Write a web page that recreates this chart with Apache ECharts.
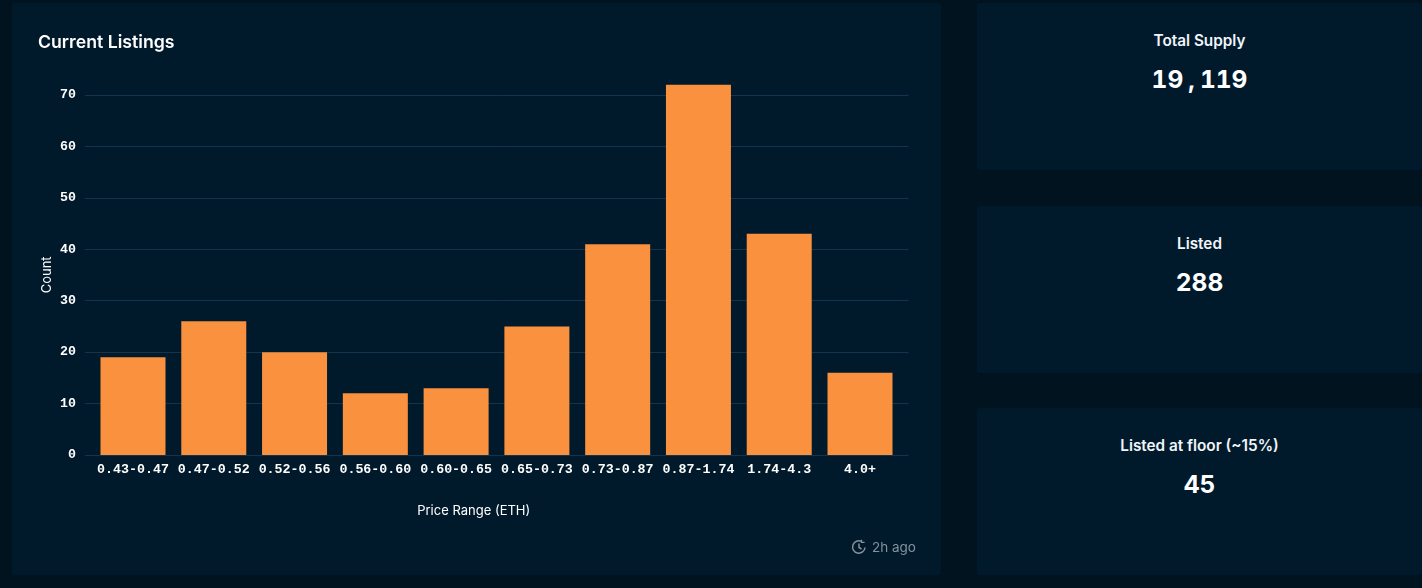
<!DOCTYPE html>
<html>
  <head>
    <title>Current Listings</title>
    <meta http-equiv="content-type" content="text/html; charset=UTF-8">
    <script src="https://cdn.jsdelivr.net/npm/echarts@6/dist/echarts.min.js"></script>
    <style>
      html, body { margin: 0; width: 1422px; height: 588px; overflow: hidden; background: #00131f; font-family: Inter, sans-serif; }
      .card { position: absolute; background: #001a2c; border-radius: 3px; }
      .stat { left: 977px; width: 445px; height: 167px; color: #fff; text-align: center; }
      .stat .label { position: absolute; left: 0; right: 0; top: 29px; font-size: 15.3px; line-height: 18px; font-weight: 600; color: #f1f5f9; }
      .stat .value { position: absolute; left: 0; right: 0; top: 57.5px; font-size: 24.5px; line-height: 36px; font-weight: 750; font-variant-numeric: tabular-nums; }
      .stat .value i { font-style: normal; padding: 0 5px; }
      #main { position: absolute; left: 0; top: 0; width: 1422px; height: 588px; }
      #ago { position: absolute; left: 851px; top: 538px; height: 18px; color: #84929c; font-size: 13.5px; line-height: 18px; }
      #ago svg { position: absolute; left: 0; top: 1px; }
      #ago span { position: absolute; left: 21px; top: 0; white-space: nowrap; }
    </style>
  </head>
  <body>
    <div class="card" style="left:12px;top:3px;width:929px;height:572px"></div>
    <div class="card stat" style="top:3px"><div class="label" id="l0"></div><div class="value" id="v0"></div></div>
    <div class="card stat" style="top:206px"><div class="label" id="l1"></div><div class="value" id="v1"></div></div>
    <div class="card stat" style="top:408px"><div class="label" id="l2"></div><div class="value" id="v2"></div></div>
    <div id="main"></div>
    <div id="ago">
      <svg width="16" height="16" viewBox="0 0 16 16" fill="none" stroke="#84929c" stroke-width="1.5">
        <path d="M14 8.5A6.2 6.2 0 1 1 10.5 2.4"/><path d="M8 4.5V8.5L10.5 10"/><path d="M10.5 0.8V3.4H13.6" stroke-width="1.3"/>
      </svg>
      <span>2h ago</span>
    </div>

<script>
  var categories = ["0.43-0.47", "0.47-0.52", "0.52-0.56", "0.56-0.60", "0.60-0.65", "0.65-0.73", "0.73-0.87", "0.87-1.74", "1.74-4.3", "4.0+"];
  var counts = [19, 26, 20, 12, 13, 25, 41, 72, 43, 16];
  var statLabels = ["Total Supply", "Listed", "Listed at floor (~15%)"];
  var statValues = ["19,119", "288", "45"];

  for (var i = 0; i < statLabels.length; i++) {
    document.getElementById("l" + i).textContent = statLabels[i];
    // the comma sits in its own wide slot, like a monospaced font
    document.getElementById("v" + i).innerHTML = statValues[i].replace(",", "<i>,</i>");
  }

  var myChart = echarts.init(document.getElementById('main'));
  var monoLabel = { color: '#fff', fontFamily: 'Liberation Mono', fontWeight: 'bold', fontSize: 13.3 };
  var nameStyle = { color: '#fff', fontFamily: 'Inter', fontSize: 13 };
  var gridColor = '#13344f';

  // grid 0 holds the gridlines and y labels, grid 1 is a bit narrower and holds the bars
  var option = {
    animation: false,
    title: {
      text: 'Current Listings', left: 33, top: 29,
      textStyle: { color: '#fff', fontFamily: 'Inter', fontSize: 17.7, fontWeight: 600 }
    },
    grid: [
      { left: 85, right: 513.5, top: 84.7, bottom: 133 },
      { left: 92.6, right: 521.6, top: 84.7, bottom: 133 }
    ],
    xAxis: [
      {
        type: 'category', gridIndex: 0, data: categories,
        axisLine: { show: false }, axisTick: { show: false }, axisLabel: { show: false },
        name: 'Price Range (ETH)', nameLocation: 'middle', nameGap: 50,
        nameTextStyle: Object.assign({ padding: [0, 46, 0, 0] }, nameStyle)
      },
      {
        type: 'category', gridIndex: 1, data: categories,
        axisLine: { show: false }, axisTick: { show: false },
        axisLabel: Object.assign({ margin: 8, interval: 0 }, monoLabel)
      }
    ],
    yAxis: [
      {
        type: 'value', gridIndex: 0, min: 0, max: 72, interval: 10,
        axisLine: { show: false }, axisTick: { show: false },
        axisLabel: Object.assign({ margin: 9, showMaxLabel: false, padding: [2, 0, 0, 0] }, monoLabel),
        splitLine: { showMaxLine: false, lineStyle: { color: gridColor, width: 1 } },
        name: 'Count', nameLocation: 'middle', nameGap: 31, nameMoveOverlap: false,
        nameTextStyle: Object.assign({ padding: [0, 10, 0, 0] }, nameStyle)
      },
      {
        type: 'value', gridIndex: 1, min: 0, max: 72, show: false
      }
    ],
    series: [{
      type: 'bar', xAxisIndex: 1, yAxisIndex: 1, data: counts,
      barWidth: 65, itemStyle: { color: '#f9913e' }
    }]
  };

  myChart.setOption(option);
</script>
  </body>
</html>
